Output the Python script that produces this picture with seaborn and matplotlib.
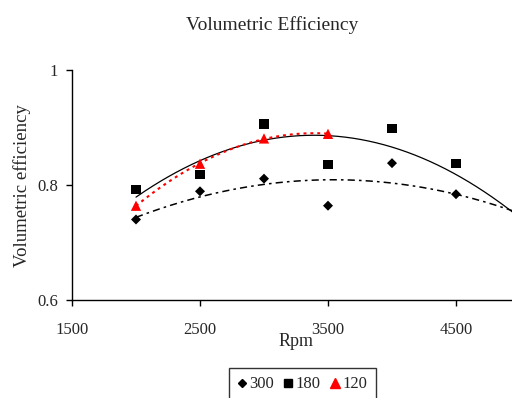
import numpy as np
import pandas as pd
import matplotlib
matplotlib.use("Agg")
import matplotlib.pyplot as plt
import seaborn as sns
from matplotlib.lines import Line2D

# data (the 5000 rpm points lie just past the cropped right edge of the chart)
rpm = [2000, 2500, 3000, 3500, 4000, 4500, 5000]
eff_300 = [0.740, 0.789, 0.811, 0.764, 0.838, 0.784, 0.745]
eff_180 = [0.792, 0.818, 0.906, 0.835, 0.898, 0.838, 0.725]
rpm_120 = [2000, 2500, 3000, 3500]
eff_120 = [0.764, 0.837, 0.881, 0.889]
series_names = ["300", "180", "120"]
x_ticks = [1500, 2500, 3500, 4500]
y_ticks = [0.6, 0.8, 1.0]
y_ticklabels = ["0.6", "0.8", "1"]

sns.set_theme(style="white")
plt.rcParams['font.family'] = ['Liberation Serif', 'DejaVu Serif']

W, H = 512, 398
fig = plt.figure(figsize=(W / 100, H / 100), dpi=100)
ax = fig.add_axes([72 / W, 1 - 300 / H, 448 / W, 230 / H])

d300 = pd.DataFrame({"Rpm": rpm, "eff": eff_300})
d180 = pd.DataFrame({"Rpm": rpm, "eff": eff_180})
d120 = pd.DataFrame({"Rpm": rpm_120, "eff": eff_120})

# polynomial (order 2) trendlines, as in the original spreadsheet chart
xs = np.linspace(min(rpm), max(rpm), 300)
xs120 = np.linspace(min(rpm_120), max(rpm_120), 150)
fit300 = np.polyval(np.polyfit(rpm, eff_300, 2), xs)
fit180 = np.polyval(np.polyfit(rpm, eff_180, 2), xs)
fit120 = np.polyval(np.polyfit(rpm_120, eff_120, 2), xs120)

sns.lineplot(x=xs, y=fit180, color="black", lw=0.9, ax=ax, zorder=2)
l300 = sns.lineplot(x=xs, y=fit300, color="black", lw=1.1, ax=ax, zorder=2).lines[-1]
l300.set_dashes([4.7, 2.7, 1.7, 2.7])
l120 = sns.lineplot(x=xs120, y=fit120, color="red", lw=1.5, ax=ax, zorder=2).lines[-1]
l120.set_dashes([1.4, 1.9])

sns.scatterplot(data=d300, x="Rpm", y="eff", marker="D", color="black",
                s=26, edgecolor="none", linewidth=0, ax=ax, zorder=3)
sns.scatterplot(data=d180, x="Rpm", y="eff", marker="s", color="black",
                s=44, edgecolor="none", linewidth=0, ax=ax, zorder=3)
sns.scatterplot(data=d120, x="Rpm", y="eff", marker="^", color="red",
                s=55, edgecolor="none", linewidth=0, ax=ax, zorder=4)

ax.set_xlim(1500, 5000)
ax.set_ylim(0.6, 1.0)
ax.set_xticks(x_ticks)
ax.set_xticklabels([str(v) for v in x_ticks])
ax.set_yticks(y_ticks)
ax.set_yticklabels(y_ticklabels)
ax.set_xlabel("")
ax.set_ylabel("")
ax.tick_params(axis="both", labelsize=12, direction="out", length=4, width=1,
               color="black", left=True, bottom=True)
ax.tick_params(axis="x", pad=12)
ax.tick_params(axis="y", pad=6)
for s in ["top", "right"]:
    ax.spines[s].set_visible(False)
for s in ["left", "bottom"]:
    ax.spines[s].set_color("black")
    ax.spines[s].set_linewidth(1.0)

fig.text(296 / W, 1 - 341 / H, "Rpm", ha="center", va="center", fontsize=13)
fig.text(22.5 / W, 1 - 186 / H, "Volumetric efficiency", ha="center",
         va="center", rotation=90, fontsize=13.5)
fig.text(272 / W, 1 - 30 / H, "Volumetric Efficiency", ha="center",
         va="baseline", fontsize=14)

handles = [Line2D([], [], ls="none", marker="D", color="black", markersize=4.5),
           Line2D([], [], ls="none", marker="s", color="black", markersize=5.5),
           Line2D([], [], ls="none", marker="^", color="red", markersize=7)]
leg = fig.legend(handles, series_names, ncol=3, loc="upper center",
                 bbox_to_anchor=(302.5 / W, 1 - 368 / H), frameon=True,
                 fontsize=12, handlelength=0.5, handletextpad=0.2,
                 columnspacing=0.6, borderpad=0.5, borderaxespad=0,
                 fancybox=False)
leg.get_frame().set_edgecolor("black")
leg.get_frame().set_linewidth(1.0)

fig.savefig("out.png", dpi=100)
